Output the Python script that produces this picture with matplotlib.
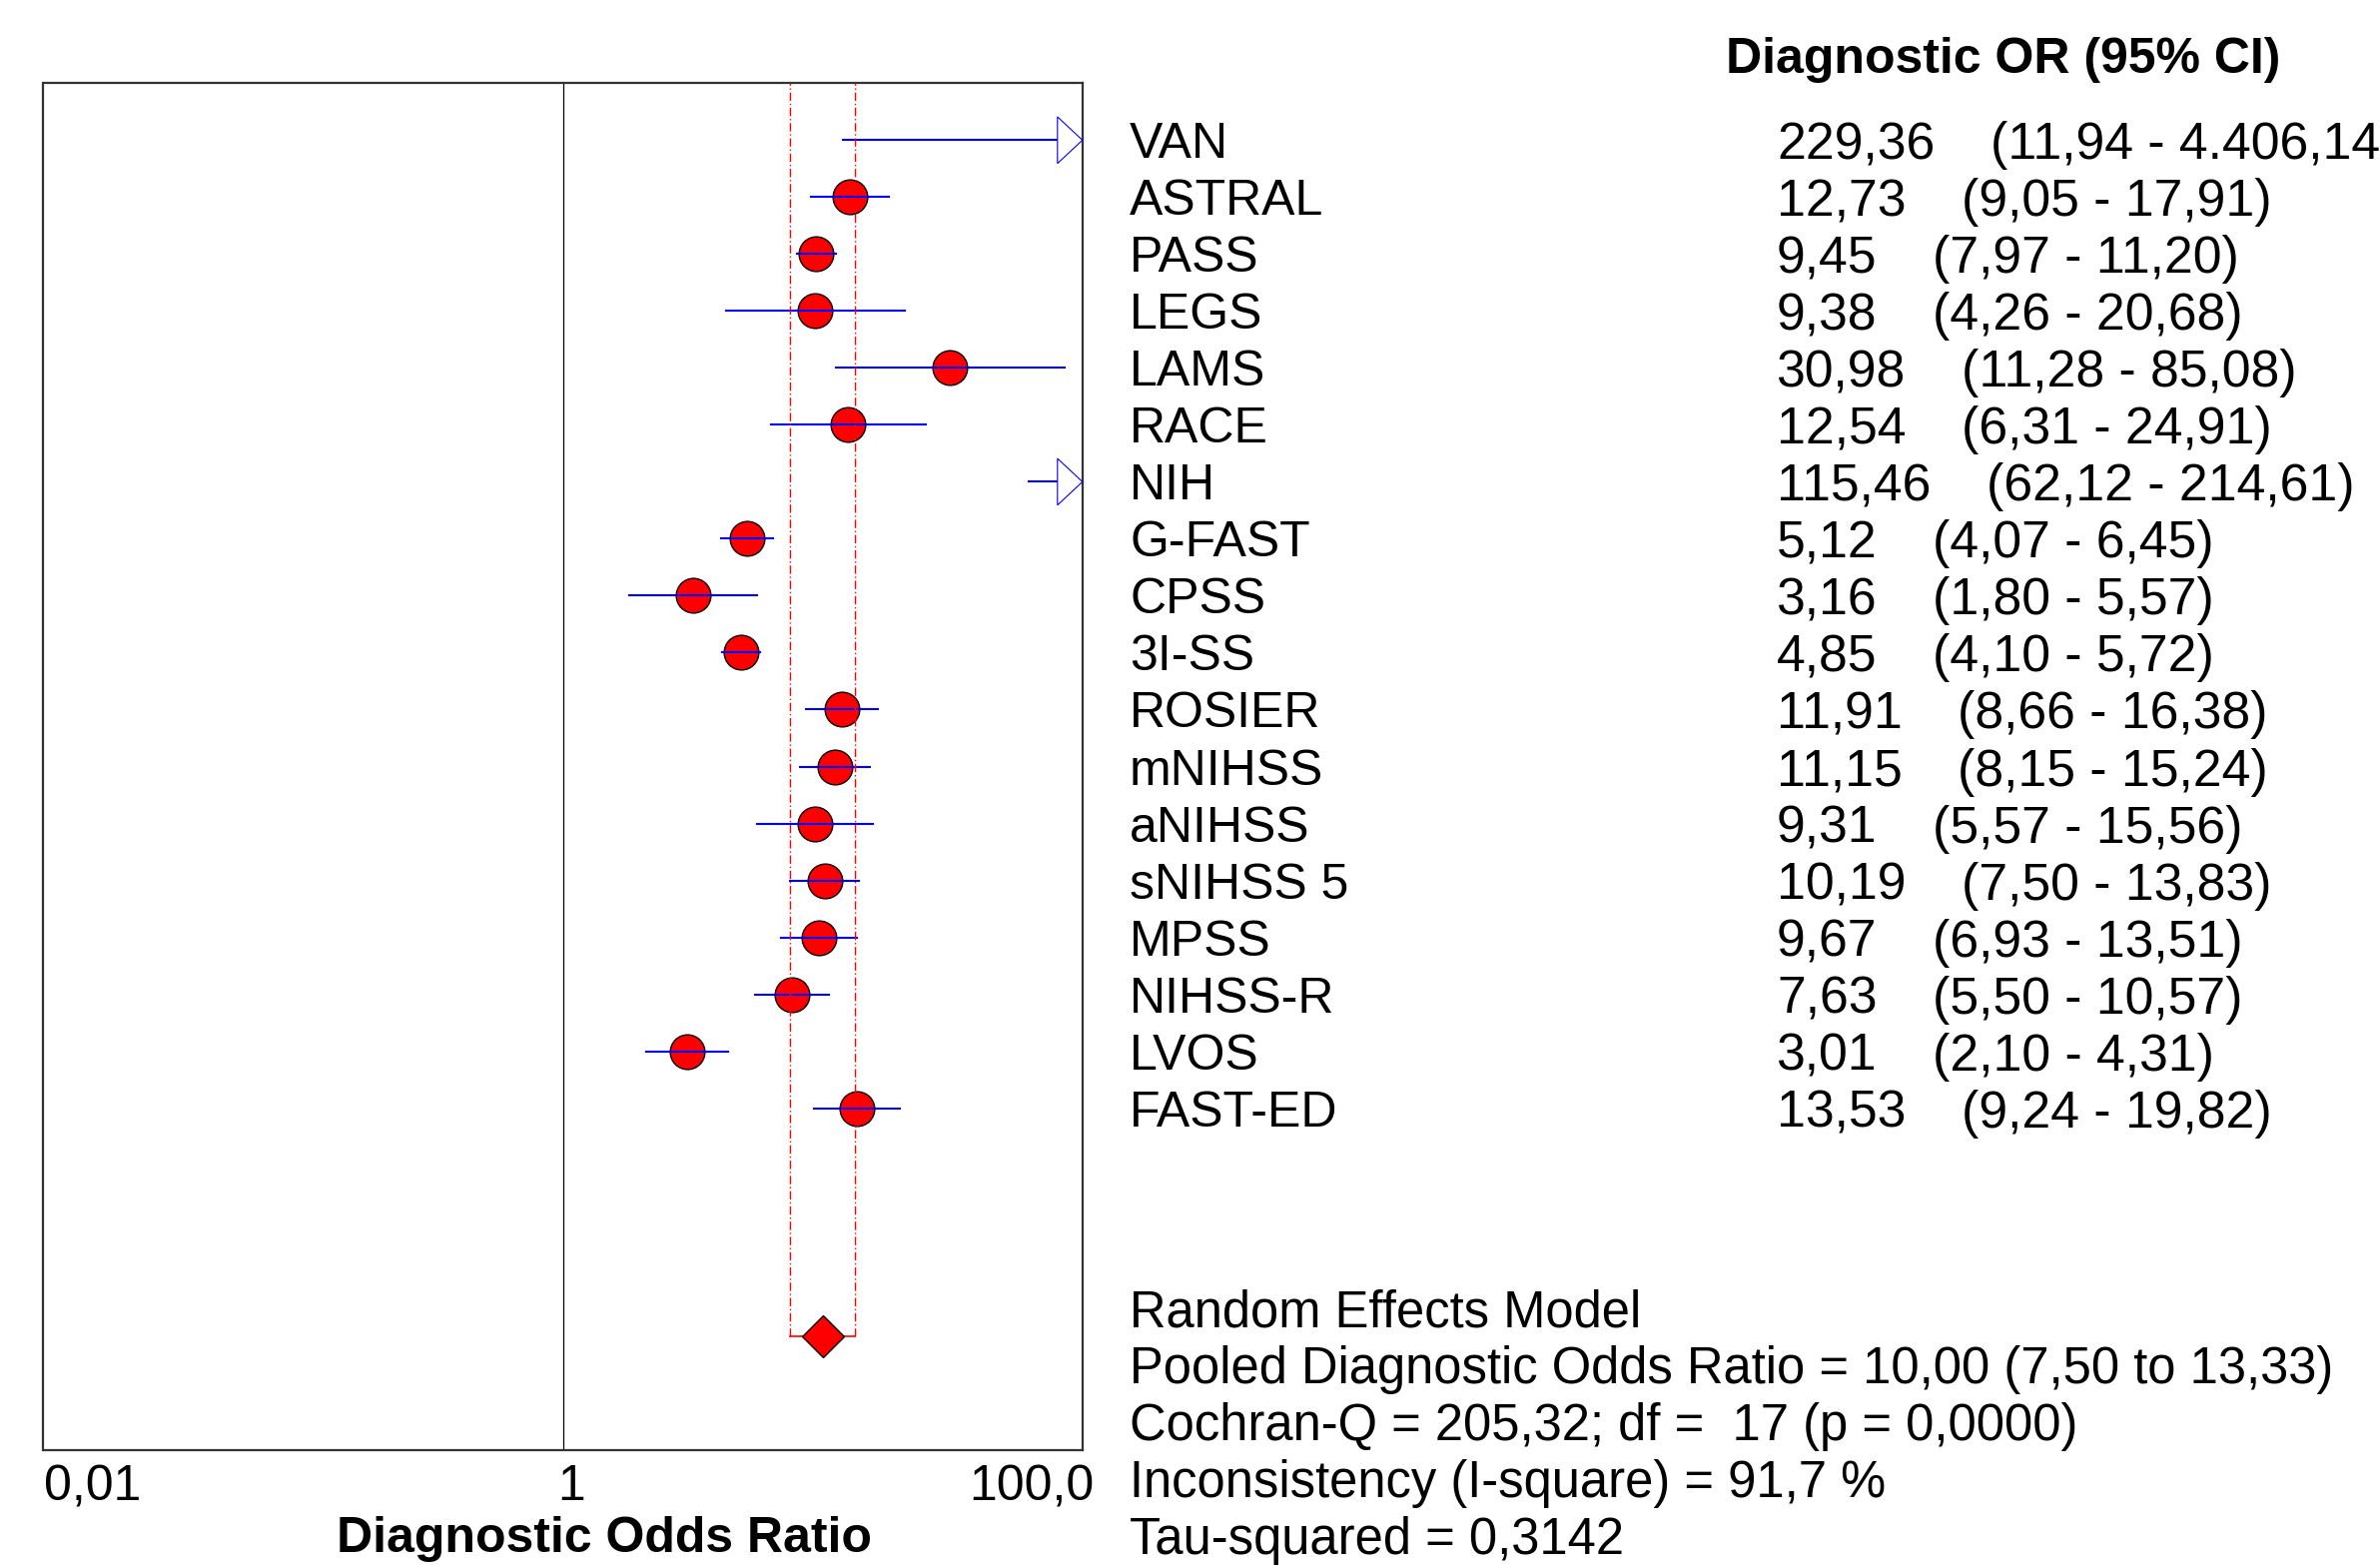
import numpy as np
import matplotlib.pyplot as plt
from matplotlib.patches import Polygon
from matplotlib.ticker import NullLocator
from matplotlib.transforms import blended_transform_factory, ScaledTranslation

# Data
studies = ['VAN', 'ASTRAL', 'PASS', 'LEGS', 'LAMS', 'RACE', 'NIH', 'G-FAST', 'CPSS',
           '3I-SS', 'ROSIER', 'mNIHSS', 'aNIHSS', 'sNIHSS 5', 'MPSS', 'NIHSS-R',
           'LVOS', 'FAST-ED']
dor     = [229.36, 12.73, 9.45, 9.38, 30.98, 12.54, 115.46, 5.12, 3.16,
           4.85, 11.91, 11.15, 9.31, 10.19, 9.67, 7.63, 3.01, 13.53]
ci_low  = [11.94, 9.05, 7.97, 4.26, 11.28, 6.31, 62.12, 4.07, 1.80,
           4.10, 8.66, 8.15, 5.57, 7.50, 6.93, 5.50, 2.10, 9.24]
ci_high = [4406.14, 17.91, 11.20, 20.68, 85.08, 24.91, 214.61, 6.45, 5.57,
           5.72, 16.38, 15.24, 15.56, 13.83, 13.51, 10.57, 4.31, 19.82]

pooled      = 10.00
pooled_low  = 7.50
pooled_high = 13.33

stats_lines = ['Random Effects Model',
               'Pooled Diagnostic Odds Ratio = 10,00 (7,50 to 13,33)',
               'Cochran-Q = 205,32; df =  17 (p = 0,0000)',
               'Inconsistency (I-square) = 91,7 %',
               'Tau-squared = 0,3142']

xticks       = [0.01, 1, 100]
xtick_labels = ['0,01', '1', '100,0']


def fmt(v):
    # comma decimal, dot thousands
    s = f'{v:,.2f}'
    return s.replace(',', 'X').replace('.', ',').replace('X', '.')


plt.rc('font', family='Liberation Sans', size=36)
num_size = 37.3
stats_size = 36.5

W, H = 2383, 1567
fig = plt.figure(figsize=(W/100, H/100), dpi=100)
ax = fig.add_axes([43.5/W, 1-1451.7/H, (1083.8-43.5)/W, (1451.7-83.3)/H])

ax.set_xscale('log')
ax.set_xlim(0.01, 100)
ax.set_ylim(23, -1)
xmin, xmax = ax.get_xlim()

ax.axvline(1, color='black', lw=0.9, zorder=1)

y = np.arange(len(studies))
pooled_y = len(studies) + 3

# arrow head size (axes fraction / rows)
arrow_base = 1 - 25/1040.3
arrow_half = 0.41
x_base = 10**(np.log10(xmin) + arrow_base*(np.log10(xmax)-np.log10(xmin)))
tri_tr = blended_transform_factory(ax.transAxes, ax.transData)

for yi, d, lo, hi in zip(y, dor, ci_low, ci_high):
    if d <= xmax:
        ax.plot(d, yi, marker='o', ms=25, mfc='red', mec='black', mew=1.0,
                ls='none', zorder=2)
    if hi > xmax:
        ax.plot([lo, x_base], [yi, yi], color='blue', lw=1.5, zorder=3)
        tri = Polygon([[arrow_base, yi-arrow_half], [1, yi], [arrow_base, yi+arrow_half]],
                      closed=True, transform=tri_tr, fc='white', ec='blue',
                      lw=0.8, clip_on=False, zorder=5)
        ax.add_patch(tri)
    else:
        ax.plot([lo, hi], [yi, yi], color='blue', lw=1.5, zorder=3)

# pooled estimate
ylim_top = ax.get_ylim()[1]
ax.vlines([pooled_low, pooled_high], pooled_y, ylim_top, colors='red', lw=1.0,
          linestyles=[(0, (6, 2, 1, 2))], zorder=4)
ax.plot([pooled_low, pooled_high], [pooled_y, pooled_y], color='red', lw=1.2, zorder=4)
ax.plot(pooled, pooled_y, marker='D', ms=21, mfc='red', mec='black', mew=1.0,
        ls='none', zorder=6)

for s in ax.spines.values():
    s.set_linewidth(1.6)
    s.set_color('#333333')

ax.set_xticks(xticks)
ax.set_xticklabels(xtick_labels)
ax.xaxis.set_minor_locator(NullLocator())
ax.tick_params(axis='x', length=0, pad=10.6, labelsize=36)
ax.set_yticks([])
# small horizontal nudges of the three tick labels (pixels)
for tick, ha, dx in zip(ax.xaxis.get_major_ticks(), ['left', 'center', 'right'], [0, 8, 12]):
    tick.label1.set_ha(ha)
    tick.label1.set_transform(tick.label1.get_transform()
                              + ScaledTranslation(dx/100, 0, fig.dpi_scale_trans))

ax.set_xlabel('Diagnostic Odds Ratio', fontsize=36, fontweight='bold')
ax.xaxis.set_label_coords(0.540, -0.0485)

# text columns
tr = blended_transform_factory(fig.transFigure, ax.transData)
label_x = 1131/W
value_x = 1779/W

ax.text(1728/W, -1.5, 'Diagnostic OR (95% CI)', transform=tr, fontweight='bold',
        va='center_baseline', clip_on=False)

for yi, name, d, lo, hi in zip(y, studies, dor, ci_low, ci_high):
    ax.text(label_x, yi, name, transform=tr, va='center_baseline', clip_on=False)
    t = ax.text(value_x, yi, fmt(d), transform=tr, va='center_baseline',
                fontsize=num_size, clip_on=False)
    ax.annotate(f'({fmt(lo)} - {fmt(hi)})', xy=(1, 0), xycoords=t,
                xytext=(40, 0), textcoords='offset points', va='bottom',
                fontsize=num_size, annotation_clip=False)

for k, line in enumerate(stats_lines):
    ax.text(label_x, pooled_y - 0.5 + k, line, transform=tr, fontsize=stats_size,
            va='center_baseline', clip_on=False)

fig.savefig('out.png', dpi=100)
